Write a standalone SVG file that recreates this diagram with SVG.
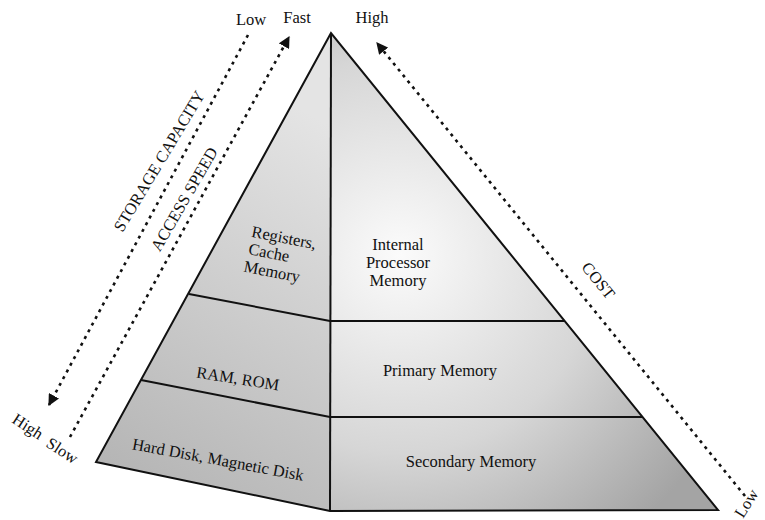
<svg xmlns="http://www.w3.org/2000/svg" width="765" height="520" viewBox="0 0 765 520">
<style>
text{font-family:"Liberation Serif","Times New Roman",serif;font-size:16.5px;fill:#111}
.c{text-anchor:middle}
.edge{fill:none;stroke:#111;stroke-width:2}
.dot{fill:none;stroke:#111;stroke-width:2.6;stroke-dasharray:3 4.6}
</style>
<defs>
<radialGradient id="gR" gradientUnits="userSpaceOnUse" cx="400" cy="255" r="360">
<stop offset="0" stop-color="#fbfbfb"/>
<stop offset="0.55" stop-color="#d6d6d6"/>
<stop offset="1" stop-color="#a4a4a4"/>
</radialGradient>
<linearGradient id="gL" gradientUnits="userSpaceOnUse" x1="320" y1="120" x2="110" y2="480">
<stop offset="0" stop-color="#e4e4e4"/>
<stop offset="1" stop-color="#b4b4b4"/>
</linearGradient>
<marker id="ah" viewBox="0 0 10 10" refX="9" refY="5" markerWidth="4.5" markerHeight="4.5" orient="auto" markerUnits="strokeWidth">
<path d="M0,0 L10,5 L0,10 Z" fill="#111"/>
</marker>
</defs>
<g id="pyramid">
<path d="M331,33 L96,462 L330,511 Z" fill="url(#gL)"/>
<path d="M331,33 L718,510 L330,510 Z" fill="url(#gR)"/>
</g>
<g id="registers">
<text transform="translate(283,243) rotate(11)" class="c">Registers,</text>
<text transform="translate(268,258) rotate(11)" class="c">Cache</text>
<text transform="translate(271,277) rotate(11)" class="c">Memory</text>
</g>
<g id="internal">
<text x="398" y="250" class="c">Internal</text>
<text x="398" y="268" class="c">Processor</text>
<text x="398" y="286" class="c">Memory</text>
</g>
<g id="ram">
<text transform="translate(237,384) rotate(9)" class="c">RAM, ROM</text>
</g>
<g id="primary">
<text x="440" y="376" class="c">Primary Memory</text>
</g>
<g id="harddisk">
<text transform="translate(217,465) rotate(10.5)" class="c">Hard Disk, Magnetic Disk</text>
</g>
<g id="secondary">
<text x="471" y="467" class="c">Secondary Memory</text>
</g>
<g id="outline">
<path class="edge" d="M331,33 L96,462 L330,511 L718,510 Z"/>
<path class="edge" d="M331,33 L330,511"/>
<path class="edge" d="M189,294 L330,321 L565,321"/>
<path class="edge" d="M141,380 L330,417 L643,417"/>
</g>
<g id="connectors">
<path class="dot" d="M248,35 L49,405" marker-end="url(#ah)"/>
<path class="dot" d="M70,437 L289,37" marker-end="url(#ah)"/>
<path class="dot" d="M745,496 L377,43" marker-end="url(#ah)"/>
</g>
<g id="labels">
<text x="251" y="25" class="c">Low</text>
<text x="297" y="23" class="c">Fast</text>
<text x="372" y="23" class="c">High</text>
<text transform="translate(164,164) rotate(-59)" class="c">STORAGE CAPACITY</text>
<text transform="translate(189,202) rotate(-60)" class="c">ACCESS SPEED</text>
<text transform="translate(594,284) rotate(51)" class="c">COST</text>
<text transform="translate(11,422) rotate(33)">High</text>
<text transform="translate(45,446) rotate(33)">Slow</text>
<text transform="translate(743,519) rotate(-58)">Low</text>
</g>
</svg>
